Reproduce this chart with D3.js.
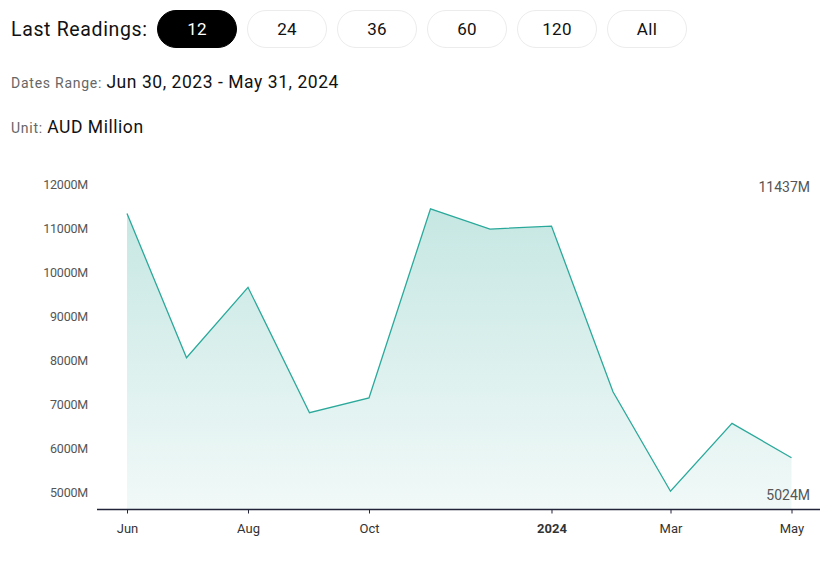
<!DOCTYPE html>
<html>
<head>
<meta charset="utf-8">
<script src="https://cdn.jsdelivr.net/npm/d3@7"></script>
<style>
  html, body { margin: 0; padding: 0; background: #fff; }
  svg { display: block; font-family: Roboto, "Noto Sans", sans-serif; }
</style>
</head>
<body>
<svg id="chart" width="836" height="568"></svg>
<script>
// ---- data ----
const dates = ["2023-06-01","2023-07-01","2023-08-01","2023-09-01","2023-10-01","2023-11-01",
               "2023-12-01","2024-01-01","2024-02-01","2024-03-01","2024-04-01","2024-05-01"];
const values = [11330, 8056, 9654, 6807, 7141, 11437, 10977, 11045, 7284, 5024, 6566, 5785];
const yTickValues = [5000, 6000, 7000, 8000, 9000, 10000, 11000, 12000];
const xTickDates = ["2023-06-01","2023-08-01","2023-10-01","2024-01-01","2024-03-01","2024-05-01"];
const xTickLabels = ["Jun","Aug","Oct","2024","Mar","May"];
const buttonLabels = ["12","24","36","60","120","All"];
const activeButton = "12";
const dateRangeText = "Jun 30, 2023 - May 31, 2024";
const unitText = "AUD Million";

const parse = d3.timeParse("%Y-%m-%d");
const data = dates.map((d, i) => ({ date: parse(d), value: values[i] }));

const svg = d3.select("#chart");

// ---- header ----
svg.append("text").attr("x", 11).attr("y", 36)
  .attr("font-size", 19.5).attr("letter-spacing", 0.65).attr("fill", "#111").text("Last Readings:");

const btn = svg.append("g").selectAll("g").data(buttonLabels).join("g")
  .attr("transform", (d, i) => `translate(${157 + i * 90},10)`);
btn.append("rect").attr("x", 0.5).attr("y", 0.5).attr("width", 79).attr("height", 37)
  .attr("rx", 18.5)
  .attr("fill", d => d === activeButton ? "#000" : "#fff")
  .attr("stroke", d => d === activeButton ? "#000" : "#ececec");
btn.append("text").attr("x", 40).attr("y", 25).attr("text-anchor", "middle")
  .attr("font-size", 17).attr("letter-spacing", 0.3)
  .attr("fill", d => d === activeButton ? "#fff" : "#111").text(d => d);

const dr = svg.append("text").attr("x", 11).attr("y", 88);
dr.append("tspan").attr("font-size", 14).attr("letter-spacing", 0.75).attr("fill", "#666").text("Dates Range: ");
dr.append("tspan").attr("font-size", 17.5).attr("letter-spacing", 0.55).attr("fill", "#111").text(dateRangeText);

const un = svg.append("text").attr("x", 11).attr("y", 133);
un.append("tspan").attr("font-size", 14).attr("letter-spacing", 0.75).attr("fill", "#666").text("Unit: ");
un.append("tspan").attr("font-size", 17.5).attr("letter-spacing", 0.55).attr("fill", "#111").text(unitText);

// ---- scales ----
const x = d3.scaleTime().domain([parse(dates[0]), parse(dates[dates.length - 1])]).range([127, 791.5]);
const y = d3.scaleLinear().domain([5000, 12000]).range([492.3, 184]);
const baseY = 509.5;

// gradient
const defs = svg.append("defs");
const grad = defs.append("linearGradient").attr("id", "fillGrad")
  .attr("x1", 0).attr("y1", 0).attr("x2", 0).attr("y2", 1);
grad.append("stop").attr("offset", "0%").attr("stop-color", "#c6e7e3");
grad.append("stop").attr("offset", "100%").attr("stop-color", "#f1f9f8");

const area = d3.area().x(d => x(d.date)).y0(baseY).y1(d => y(d.value));
const line = d3.line().x(d => x(d.date)).y(d => y(d.value));

svg.append("path").datum(data).attr("d", area).attr("fill", "url(#fillGrad)");
svg.append("path").datum(data).attr("d", line).attr("fill", "none")
  .attr("stroke", "#2aa99b").attr("stroke-width", 1.3);

// y axis
const yAxis = svg.append("g").attr("transform", "translate(88,0)")
  .call(d3.axisLeft(y).tickValues(yTickValues).tickSize(0).tickPadding(0)
    .tickFormat(d => d + "M"));
yAxis.select(".domain").remove();
yAxis.selectAll("text").attr("font-family", "Roboto, sans-serif").attr("font-size", 12.5)
  .attr("fill", "#555").attr("letter-spacing", "-0.2");

// x axis
svg.append("line").attr("x1", 97).attr("x2", 820).attr("y1", baseY).attr("y2", baseY)
  .attr("stroke", "#22243a").attr("stroke-width", 1.3);
const xAxis = svg.append("g").attr("transform", `translate(0,${baseY})`)
  .call(d3.axisBottom(x).tickValues(xTickDates.map(parse)).tickSize(4).tickPadding(10)
    .tickFormat((d, i) => xTickLabels[i]));
xAxis.select(".domain").remove();
xAxis.selectAll("line").attr("stroke", "#22243a");
xAxis.selectAll("text").attr("font-family", "Roboto, sans-serif").attr("font-size", 13)
  .attr("fill", "#333")
  .attr("font-weight", (d, i) => xTickLabels[i] === "2024" ? "bold" : "normal");

// max / min labels
const maxV = d3.max(values), minV = d3.min(values);
svg.append("text").attr("x", 810).attr("y", 192).attr("text-anchor", "end")
  .attr("font-size", 14).attr("fill", "#555").text(maxV + "M");
svg.append("text").attr("x", 810).attr("y", 500).attr("text-anchor", "end")
  .attr("font-size", 14).attr("fill", "#555").text(minV + "M");
</script>
</body>
</html>
